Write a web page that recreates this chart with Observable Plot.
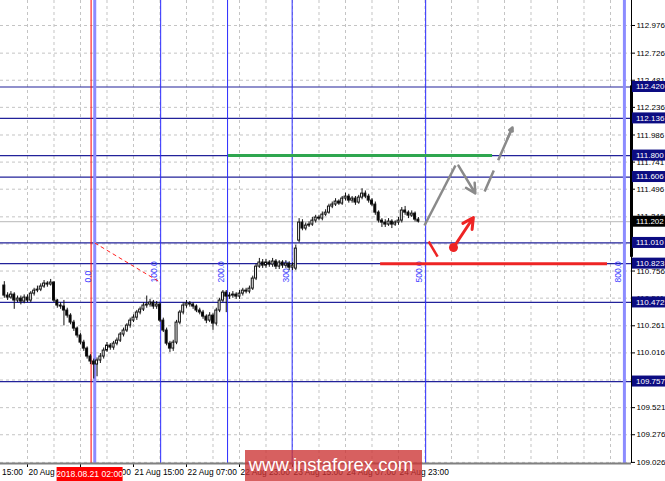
<!DOCTYPE html>
<html><head><meta charset="utf-8">
<script src="https://cdn.jsdelivr.net/npm/d3@7"></script>
<script src="https://cdn.jsdelivr.net/npm/@observablehq/plot@0.6"></script>
<style>body{margin:0;background:#fff}#chart svg{display:block}</style>
</head><body><div id="chart"></div>
<script>
// USDJPY H1, bar 0 = 2018-08-20 00:00 (hours since then)
const startHour = 0;
const open = [110.625,110.534,110.516,110.543,110.489,110.507,110.480,110.516,110.489,110.552,
110.579,110.588,110.616,110.643,110.634,110.652,110.489,110.444,110.435,110.399,
110.353,110.290,110.236,110.173,110.109,110.055,109.983,109.938,109.911,109.947,
109.983,110.037,110.082,110.064,110.100,110.127,110.182,110.218,110.263,110.308,
110.335,110.381,110.408,110.444,110.453,110.471,110.435,110.453,110.308,110.218,
110.100,110.055,110.109,110.290,110.381,110.444,110.462,110.453,110.435,110.399,
110.381,110.344,110.308,110.353,110.281,110.399,110.489,110.561,110.525,110.534,
110.543,110.525,110.552,110.579,110.570,110.597,110.688,110.796,110.833,110.805,
110.833,110.814,110.842,110.796,110.833,110.805,110.823,110.787,110.778,111.031,
111.194,111.140,111.167,111.176,111.212,111.239,111.230,111.266,111.284,111.339,
111.357,111.384,111.366,111.411,111.429,111.393,111.411,111.375,111.420,111.456,
111.429,111.393,111.357,111.284,111.212,111.194,111.176,111.203,111.176,111.194,
111.212,111.303,111.284,111.257,111.275,111.221];
const high = [110.66,110.56,110.57,110.56,110.53,110.53,110.54,110.54,110.57,110.60,
110.62,110.64,110.67,110.66,110.68,110.66,110.50,110.47,110.49,110.42,
110.37,110.31,110.25,110.19,110.13,110.07,110.00,109.96,109.97,110.01,
110.06,110.11,110.10,110.12,110.15,110.20,110.24,110.28,110.33,110.36,
110.40,110.43,110.47,110.53,110.50,110.49,110.48,110.47,110.33,110.24,
110.12,110.13,110.31,110.40,110.47,110.49,110.48,110.47,110.45,110.42,
110.40,110.36,110.38,110.37,110.42,110.51,110.58,110.58,110.56,110.57,
110.56,110.58,110.60,110.60,110.62,110.71,110.82,110.87,110.86,110.86,
110.85,110.87,110.86,110.85,110.85,110.85,110.84,110.83,110.99,111.23,
111.22,111.19,111.20,111.24,111.26,111.26,111.29,111.31,111.36,111.38,
111.41,111.40,111.43,111.46,111.45,111.43,111.43,111.44,111.50,111.48,
111.45,111.41,111.38,111.30,111.23,111.22,111.23,111.22,111.21,111.24,
111.33,111.34,111.30,111.30,111.29,111.24];
const low = [110.51,110.49,110.50,110.41,110.47,110.45,110.46,110.47,110.47,110.53,
110.56,110.57,110.60,110.61,110.62,110.47,110.42,110.41,110.26,110.33,
110.27,110.21,110.15,110.09,110.03,109.96,109.91,109.78,109.80,109.92,
109.96,110.02,110.04,110.04,110.08,110.11,110.16,110.20,110.24,110.29,
110.31,110.36,110.39,110.42,110.43,110.41,110.41,110.29,110.20,110.08,
110.02,110.03,110.09,110.27,110.36,110.42,110.43,110.41,110.38,110.36,
110.32,110.28,110.29,110.22,110.26,110.38,110.47,110.38,110.50,110.51,
110.50,110.50,110.53,110.55,110.55,110.58,110.67,110.78,110.78,110.78,
110.79,110.79,110.77,110.77,110.78,110.78,110.76,110.76,110.76,111.01,
111.12,111.12,111.15,111.16,111.19,111.21,111.21,111.25,111.27,111.32,
111.34,111.35,111.35,111.39,111.37,111.37,111.35,111.36,111.40,111.41,
111.37,111.34,111.26,111.19,111.15,111.15,111.16,111.14,111.16,111.17,
111.19,111.26,111.23,111.24,111.20,111.19];
const close = [110.534,110.516,110.543,110.489,110.507,110.480,110.516,110.489,110.552,110.579,
110.588,110.616,110.643,110.634,110.652,110.489,110.444,110.435,110.399,110.353,
110.290,110.236,110.173,110.109,110.055,109.983,109.938,109.911,109.947,109.983,
110.037,110.082,110.064,110.100,110.127,110.182,110.218,110.263,110.308,110.335,
110.381,110.408,110.444,110.453,110.471,110.435,110.453,110.308,110.218,110.100,
110.055,110.109,110.290,110.381,110.444,110.462,110.453,110.435,110.399,110.381,
110.344,110.308,110.353,110.281,110.399,110.489,110.561,110.525,110.534,110.543,
110.525,110.552,110.579,110.570,110.597,110.688,110.796,110.833,110.805,110.833,
110.814,110.842,110.796,110.833,110.805,110.823,110.787,110.805,110.959,111.194,
111.140,111.167,111.176,111.212,111.239,111.230,111.266,111.284,111.339,111.357,
111.384,111.366,111.411,111.429,111.393,111.411,111.375,111.420,111.456,111.429,
111.393,111.357,111.284,111.212,111.194,111.176,111.203,111.176,111.194,111.212,
111.303,111.284,111.257,111.275,111.221,111.203];

const yTicks = [112.976,112.726,112.481,112.236,111.986,111.741,111.496,111.246,111.001,
  110.756,110.511,110.261,110.016,109.771,109.521,109.276,109.026];
const levelPrices = [112.420,112.136,111.800,111.606,111.010,110.823,110.472,109.757];
const bidPrice = 111.202;
const redLineHour = 26.2;
const redLineLabel = "2018.08.21 02:00";
const fibHours = [27.3,47.2,67.4,86.9,127.2,187.2];
const fibLabels = ["0.0","100.0","200.0","300.0","500.0","800.0"];
const fibLabelPrice = 110.652;
const gridHours = [7,15,23,31,39,47,55,63,71,79,87,95,103,111,119,127,135,143,151,159,167,175,183];
const timeTickHours = [7,23,39,55,71,87,103,119];
const timeLabels = ["20 Aug 07:00","20 Aug 23:00","21 Aug 15:00","22 Aug 07:00",
  "22 Aug 23:00","23 Aug 15:00","24 Aug 07:00","24 Aug 23:00"];
const edgeLabelHour = -0.7;   // tail of the "17 Aug 15:00" label at the left edge
const edgeLabel = "15:00";
const greenSeg = [{x1: 67.7, x2: 147.4, y: 111.800}];
const redSeg = [{x1: 113.6, x2: 182.1, y: 110.823}];
const fibBase = [{x1: 27.3, y1: 111.010, x2: 47.2, y2: 110.652}];
const grayUp = [{x1: 126.85, y1: 111.168, x2: 136.2, y2: 111.710}];
const grayDown = [{x1: 137.1, y1: 111.710, x2: 142.2, y2: 111.457}];
const grayDashed = [{x1: 145.0, y1: 111.475, x2: 153.4, y2: 112.054}];
const grayDashedHead = [{x1: 151.9, y1: 111.954, x2: 153.4, y2: 112.054}];
const redTick = [{x1: 128.1, y1: 111.023, x2: 130.8, y2: 110.887}];
const redDot = [{x: 135.6, y: 110.969}];
const redArrow = [{x1: 135.6, y1: 110.969, x2: 141.6, y2: 111.240}];
const axisThick = [112.43, 110.88];

const bars = close.map((c, i) => ({t: startHour + i, o: open[i], h: high[i], l: low[i], c}));

const font = "'Liberation Sans', Arial, sans-serif";
const plot = Plot.plot({
  width: 665, height: 481,
  marginTop: 0, marginLeft: 0, marginRight: 34, marginBottom: 18,
  x: {type: "linear", domain: [-1.15, 189.34], axis: null},
  y: {type: "linear", domain: [109.016, 113.202], axis: null},
  color: {type: "identity"},
  style: {fontFamily: font, fontSize: "8px", background: "white", color: "black"},
  marks: [
    Plot.ruleY(yTicks, {stroke: "#c4c4c4", strokeDasharray: "3,3"}),
    Plot.ruleX(gridHours, {stroke: "#c4c4c4", strokeDasharray: "3,3"}),
    Plot.ruleY([bidPrice], {stroke: "#b8b8b8"}),
    Plot.ruleY(levelPrices, {stroke: "#22229a", strokeWidth: 1.2}),
    Plot.ruleX([redLineHour], {stroke: "#ff0000", strokeWidth: 1}),
    Plot.ruleX(fibHours, {
      stroke: (d, i) => (i === 0 || i === 5) ? "#8c8cff" : "#2a2aff",
      strokeWidth: (d, i) => (i === 0 || i === 5) ? 3 : 1
    }),
    Plot.text(fibHours, {x: d => d, y: () => fibLabelPrice, text: (d, i) => fibLabels[i],
      rotate: -90, textAnchor: "start", dx: -6, fill: "#3c3cff", fontSize: 8.5}),
    Plot.link(fibBase, {x1: "x1", y1: "y1", x2: "x2", y2: "y2", stroke: "#ff2020", strokeDasharray: "4,3"}),
    Plot.ruleX(bars, {x: "t", y1: "l", y2: "h", stroke: "#111", strokeWidth: 1}),
    Plot.rect(bars, {x1: d => d.t - 0.3, x2: d => d.t + 0.3, y1: "o", y2: "c",
      fill: d => d.c >= d.o ? "#ffffff" : "#000000", stroke: "#111", strokeWidth: 1}),
    Plot.ruleY(greenSeg, {x1: "x1", x2: "x2", y: "y", stroke: "#2fa64f", strokeWidth: 3}),
    Plot.ruleY(redSeg, {x1: "x1", x2: "x2", y: "y", stroke: "#ee2424", strokeWidth: 3}),
    Plot.link(grayUp, {x1: "x1", y1: "y1", x2: "x2", y2: "y2", stroke: "#8a8a8a", strokeWidth: 2.5}),
    Plot.arrow(grayDown, {x1: "x1", y1: "y1", x2: "x2", y2: "y2", stroke: "#8a8a8a", strokeWidth: 2.5, headLength: 11, headAngle: 55}),
    Plot.link(grayDashed, {x1: "x1", y1: "y1", x2: "x2", y2: "y2", stroke: "#8a8a8a", strokeWidth: 2.5, strokeDasharray: "23,11,200"}),
    Plot.arrow(grayDashedHead, {x1: "x1", y1: "y1", x2: "x2", y2: "y2", stroke: "#8a8a8a", strokeWidth: 2.5, headLength: 11, headAngle: 55}),
    Plot.link(redTick, {x1: "x1", y1: "y1", x2: "x2", y2: "y2", stroke: "#ee2424", strokeWidth: 2.5}),
    Plot.arrow(redArrow, {x1: "x1", y1: "y1", x2: "x2", y2: "y2", stroke: "#ee2424", strokeWidth: 3, headLength: 11, headAngle: 55}),
    Plot.dot(redDot, {x: "x", y: "y", r: 4.5, fill: "#ee2424"}),
    Plot.axisY({anchor: "right", ticks: yTicks, tickFormat: d3.format(".3f"), tickSize: 3, tickPadding: 2, fontSize: 8}),
    Plot.axisX({ticks: timeTickHours, tickFormat: () => "", tickSize: 4}),
    Plot.text(timeTickHours, {x: d => d, text: (d, i) => timeLabels[i], frameAnchor: "bottom", dy: 11, dx: 1,
      textAnchor: "start", fontSize: 8.4, fill: "#000"}),
    Plot.text([edgeLabelHour], {x: d => d, text: () => edgeLabel, frameAnchor: "bottom", dy: 11,
      textAnchor: "start", fontSize: 8.4, fill: "#000"})
  ]
});

document.getElementById("chart").appendChild(plot);
const svg = d3.select(plot);
const xs = v => plot.scale("x").apply(v);
const ys = v => plot.scale("y").apply(v);
const W = 665, right = 631, bottom = 463;

// axis lines
svg.append("line").attr("x1", 0).attr("x2", right).attr("y1", bottom + 0.5).attr("y2", bottom + 0.5)
  .attr("stroke", "#808080").attr("stroke-width", 2);
svg.append("line").attr("x1", right + 0.5).attr("x2", right + 0.5).attr("y1", 0).attr("y2", bottom)
  .attr("stroke", "#000").attr("stroke-width", 1);
svg.append("line").attr("x1", right + 0.5).attr("x2", right + 0.5).attr("y1", ys(axisThick[0])).attr("y2", ys(axisThick[1]))
  .attr("stroke", "#000").attr("stroke-width", 3);

// highlighted price labels
const boxes = levelPrices.map(p => ({p, fill: "#0c0c82"})).concat([{p: bidPrice, fill: "#000000"}]);
for (const b of boxes) {
  const y = ys(b.p);
  svg.append("rect").attr("x", right + 1).attr("y", y - 5.5).attr("width", W - right - 1).attr("height", 11).attr("fill", b.fill);
  svg.append("text").attr("x", right + 5).attr("y", y).attr("dy", "0.35em").attr("fill", "#fff")
    .attr("text-anchor", "start").attr("font-family", font).attr("font-size", 8).text(d3.format(".3f")(b.p));
}

// red time label
const rx = xs(redLineHour);
svg.append("rect").attr("x", rx - 34).attr("y", 467).attr("width", 66).attr("height", 14).attr("fill", "#ff0000");
svg.append("text").attr("x", rx - 1).attr("y", 474).attr("dy", "0.35em").attr("text-anchor", "middle")
  .attr("fill", "#fff").attr("font-family", font).attr("font-size", 8.6).text(redLineLabel);

// watermark
svg.append("rect").attr("x", 245).attr("y", 450).attr("width", 177).attr("height", 31)
  .attr("fill", "#cc3333").attr("fill-opacity", 0.78);
svg.append("text").attr("x", 331).attr("y", 471).attr("text-anchor", "middle").attr("fill", "#fff")
  .attr("font-family", font).attr("font-size", 18.5).text("www.instaforex.com");
</script>
</body></html>
